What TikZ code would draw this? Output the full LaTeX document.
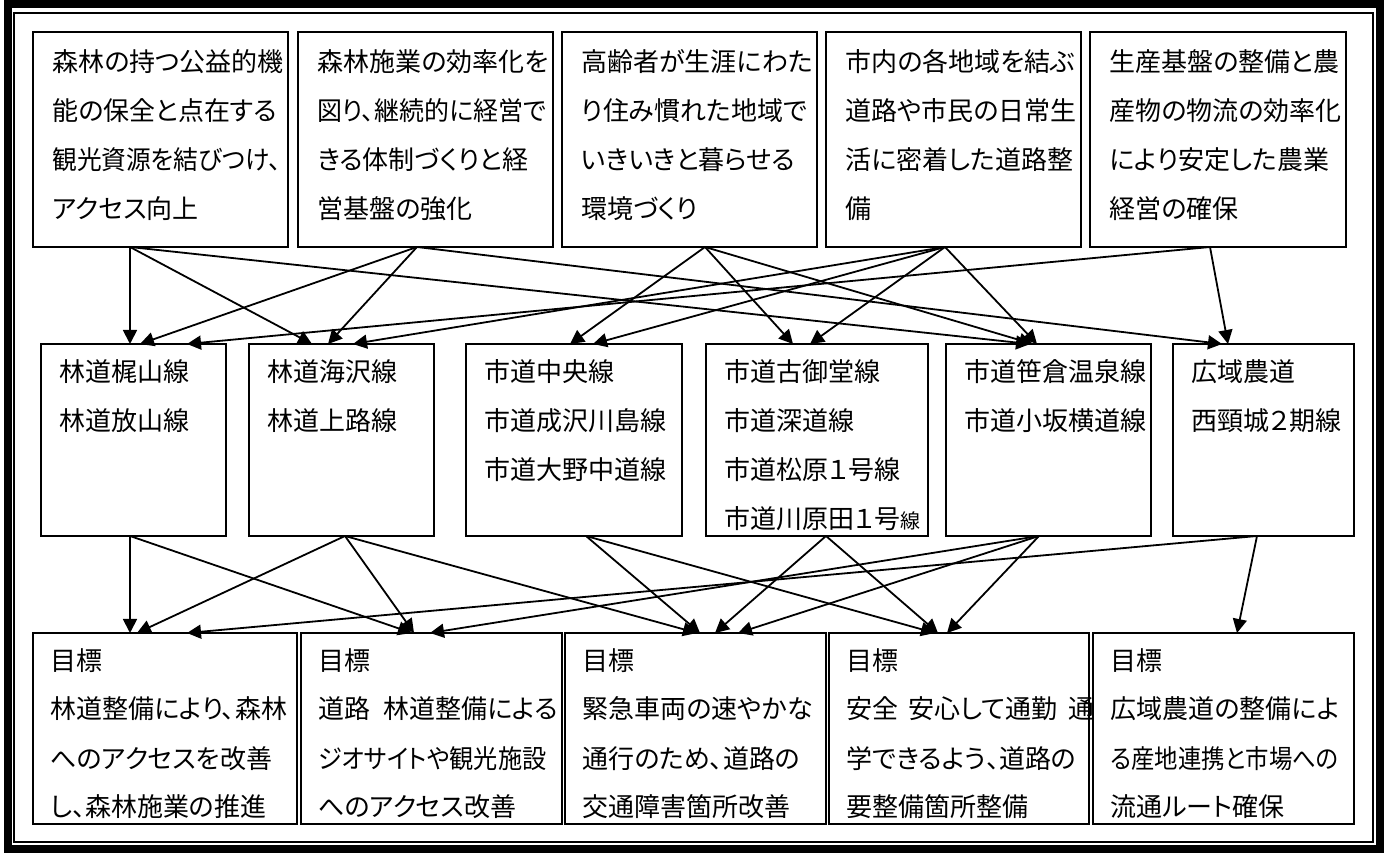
\documentclass[tikz,border=0pt]{standalone}
\usepackage{fontspec}
\usepackage{graphicx}
\setmainfont{Noto Sans CJK JP}[RawFeature=+palt]
\usetikzlibrary{arrows.meta,calc}
\newcommand{\sqz}[2]{\scalebox{#1}[1]{#2}}
\tikzset{
  box/.style={draw, line width=1pt, inner sep=0pt, outer sep=0pt, anchor=north west},
  txt/.style={anchor=base west, align=left, inner sep=0pt, font=\fontsize{13}{24.5}\selectfont},
  arr/.style={line width=0.9pt, -{Triangle[length=7pt,width=7pt]}}
}
\begin{document}
\begin{tikzpicture}[x=0.5pt,y=-0.5pt]
\useasboundingbox (0,0) rectangle (1387,854);
% frame
\draw[line width=4pt] (7.5,4) rectangle (1380,849);
\draw[line width=1.2pt] (14,13) rectangle (1373,842);
% top boxes
\node[box, minimum width=127.5pt, minimum height=107.5pt] (t1) at (33,32) {};
\node[box, minimum width=127.5pt, minimum height=107.5pt] (t2) at (298,32) {};
\node[box, minimum width=127.5pt, minimum height=107.5pt] (t3) at (562,32) {};
\node[box, minimum width=127.5pt, minimum height=107.5pt] (t4) at (826,32) {};
\node[box, minimum width=128pt, minimum height=107.5pt] (t5) at (1090,32) {};
% text nodes: anchor is the baseline of the LAST line
\node[txt] (t1x) at ($(t1.north west)+(19,187)$) {森林の持つ公益的機\\能の保全と点在する\\\sqz{0.95}{観光資源を結びつけ、}\\アクセス向上};
\node[txt] (t2x) at ($(t2.north west)+(19,187)$) {森林施業の効率化を\\\sqz{0.96}{図り、継続的に経営で}\\きる体制づくりと経\\営基盤の強化};
\node[txt] (t3x) at ($(t3.north west)+(19,187)$) {高齢者が生涯にわた\\り住み慣れた地域で\\いきいきと暮らせる\\環境づくり};
\node[txt] (t4x) at ($(t4.north west)+(19,187)$) {市内の各地域を結ぶ\\道路や市民の日常生\\活に密着した道路整\\備};
\node[txt] (t5x) at ($(t5.north west)+(19,187)$) {生産基盤の整備と農\\産物の物流の効率化\\により安定した農業\\経営の確保};
% middle boxes
\node[box, minimum width=92.5pt, minimum height=96pt] (m1) at (41,344) {};
\node[box, minimum width=92.5pt, minimum height=96pt] (m2) at (249,344) {};
\node[box, minimum width=108pt, minimum height=96pt] (m3) at (466,344) {};
\node[box, minimum width=111pt, minimum height=96pt] (m4) at (706,344) {};
\node[box, minimum width=102.5pt, minimum height=96pt] (m5) at (946,344) {};
\node[box, minimum width=90.5pt, minimum height=96pt] (m6) at (1173,344) {};
\node[txt] (m1x) at ($(m1.north west)+(18,87)$) {林道梶山線\\林道放山線};
\node[txt] (m2x) at ($(m2.north west)+(18,87)$) {林道海沢線\\林道上路線};
\node[txt] (m3x) at ($(m3.north west)+(18,136)$) {市道中央線\\市道成沢川島線\\市道大野中道線};
\node[txt] (m4x) at ($(m4.north west)+(18,185)$) {市道古御堂線\\市道深道線\\市道松原１号線\\市道川原田１号{\fontsize{10}{24.5}\selectfont 線}};
\node[txt] (m5x) at ($(m5.north west)+(18,87)$) {市道笹倉温泉線\\市道小坂横道線};
\node[txt] (m6x) at ($(m6.north west)+(18,87)$) {広域農道\\西頸城２期線};
% bottom boxes
\node[box, minimum width=132pt, minimum height=95.5pt] (b1) at (33,633) {};
\node[box, minimum width=130.5pt, minimum height=95.5pt] (b2) at (301,633) {};
\node[box, minimum width=130.5pt, minimum height=95.5pt] (b3) at (565,633) {};
\node[box, minimum width=130pt, minimum height=95.5pt] (b4) at (829,633) {};
\node[box, minimum width=130.5pt, minimum height=95.5pt] (b5) at (1093,633) {};
\node[txt] (b1x) at ($(b1.north west)+(17,184)$) {目標\\林道整備により、森林\\へのアクセスを改善\\し、森林施業の推進};
\node[txt] (b2x) at ($(b2.north west)+(17,184)$) {目標\\道路\hspace{0.5em}林道整備による\\\sqz{0.93}{ジオサイトや観光施設}\\へのアクセス改善};
\node[txt] (b3x) at ($(b3.north west)+(17,184)$) {目標\\緊急車両の速やかな\\通行のため、道路の\\交通障害箇所改善};
\node[txt] (b4x) at ($(b4.north west)+(17,184)$) {目標\\安全\hspace{0.4em}安心して通勤\hspace{0.4em}通\\学できるよう、道路の\\要整備箇所整備};
\node[txt] (b5x) at ($(b5.north west)+(17,184)$) {目標\\広域農道の整備によ\\\sqz{0.9}{る産地連携と市場への}\\流通ルート確保};
% arrows top -> middle
\draw[arr] ($(t1.south west)+(97,0)$) -- ($(m1.north west)+(89,0)$);
\draw[arr] ($(t1.south west)+(97,0)$) -- ($(m2.north west)+(63,0)$);
\draw[arr] ($(t1.south west)+(97,0)$) -- ($(m5.north west)+(84,0)$);
\draw[arr] ($(t2.south west)+(119,0)$) -- ($(m1.north west)+(99,0)$);
\draw[arr] ($(t2.south west)+(119,0)$) -- ($(m2.north west)+(79,0)$);
\draw[arr] ($(t2.south west)+(119,0)$) -- ($(m6.north west)+(49,0)$);
\draw[arr] ($(t3.south west)+(143,0)$) -- ($(m3.north west)+(104,0)$);
\draw[arr] ($(t3.south west)+(143,0)$) -- ($(m4.north west)+(87,0)$);
\draw[arr] ($(t3.south west)+(143,0)$) -- ($(m5.north west)+(87,0)$);
\draw[arr] ($(t4.south west)+(119,0)$) -- ($(m2.north west)+(104,0)$);
\draw[arr] ($(t4.south west)+(119,0)$) -- ($(m3.north west)+(127,0)$);
\draw[arr] ($(t4.south west)+(119,0)$) -- ($(m4.north west)+(104,0)$);
\draw[arr] ($(t4.south west)+(119,0)$) -- ($(m5.north west)+(91,0)$);
\draw[arr] ($(t5.south west)+(120,0)$) -- ($(m1.north west)+(146,0)$);
\draw[arr] ($(t5.south west)+(120,0)$) -- ($(m6.north west)+(55,0)$);
% arrows middle -> bottom
\draw[arr] ($(m1.south west)+(89,0)$) -- ($(b1.north west)+(97,0)$);
\draw[arr] ($(m1.south west)+(89,0)$) -- ($(b2.north west)+(111,0)$);
\draw[arr] ($(m2.south west)+(96,0)$) -- ($(b1.north west)+(104,0)$);
\draw[arr] ($(m2.south west)+(96,0)$) -- ($(b2.north west)+(113,0)$);
\draw[arr] ($(m2.south west)+(96,0)$) -- ($(b3.north west)+(132,0)$);
\draw[arr] ($(m3.south west)+(120,0)$) -- ($(b3.north west)+(135,0)$);
\draw[arr] ($(m3.south west)+(120,0)$) -- ($(b4.north west)+(106,0)$);
\draw[arr] ($(m4.south west)+(120,0)$) -- ($(b3.north west)+(150,0)$);
\draw[arr] ($(m4.south west)+(120,0)$) -- ($(b4.north west)+(109,0)$);
\draw[arr] ($(m5.south west)+(93,0)$) -- ($(b2.north west)+(129,0)$);
\draw[arr] ($(m5.south west)+(93,0)$) -- ($(b3.north west)+(173,0)$);
\draw[arr] ($(m5.south west)+(93,0)$) -- ($(b4.north west)+(118,0)$);
\draw[arr] ($(m6.south west)+(84,0)$) -- ($(b1.north west)+(154,0)$);
\draw[arr] ($(m6.south west)+(84,0)$) -- ($(b5.north west)+(144,0)$);
\end{tikzpicture}
\end{document}
